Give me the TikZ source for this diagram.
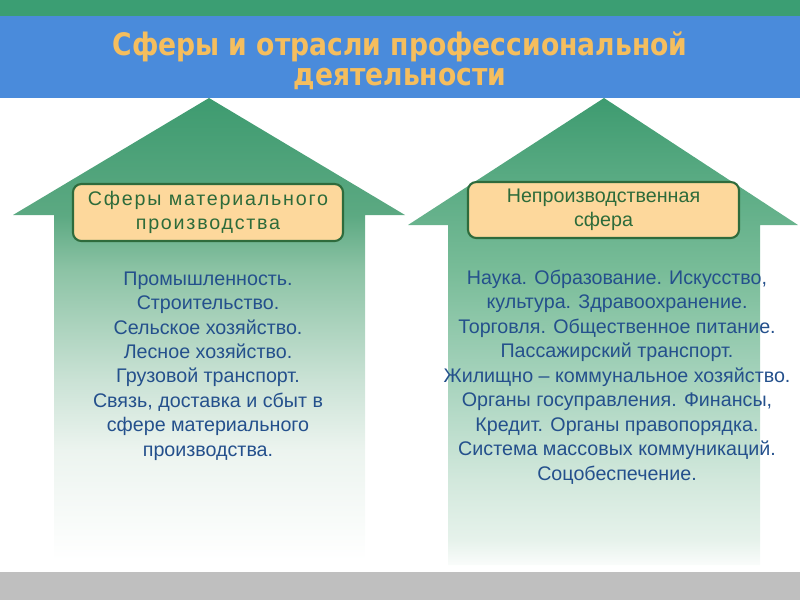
\documentclass[tikz,border=0pt]{standalone}
\usepackage{fontspec}
\setmainfont{Liberation Sans}
\newfontfamily\titlefont[FakeStretch=0.86]{DejaVu Sans}
\newfontfamily\spacedfont[LetterSpace=9]{Liberation Sans}
\usepackage{xcolor}
\usetikzlibrary{positioning}
\definecolor{bandgreen}{RGB}{59,158,115}
\definecolor{bandblue}{RGB}{74,139,219}
\definecolor{bandgray}{RGB}{191,191,191}
\definecolor{titleorange}{RGB}{245,190,94}
\definecolor{boxfill}{RGB}{253,216,156}
\definecolor{boxline}{RGB}{46,107,60}
\definecolor{boxtext}{RGB}{45,107,58}
\definecolor{itemblue}{RGB}{36,80,140}
\definecolor{arrgreen}{RGB}{62,155,112}
\definecolor{lA}{RGB}{92,169,130}
\definecolor{lB}{RGB}{140,195,165}
\definecolor{lC}{RGB}{202,226,213}
\definecolor{lD}{RGB}{236,244,239}
\definecolor{rA}{RGB}{120,188,152}
\definecolor{rB}{RGB}{175,215,195}
\definecolor{rC}{RGB}{210,232,220}
\definecolor{rD}{RGB}{230,242,235}
\definecolor{rE}{RGB}{250,252,251}
% fades from green at the tip down to white
\pgfdeclareverticalshading{leftfade}{100bp}{color(0bp)=(white); color(25bp)=(white); color(36.9bp)=(lD); color(44.5bp)=(lC); color(56.4bp)=(lB); color(62.3bp)=(lA); color(75bp)=(arrgreen); color(100bp)=(arrgreen)}
\pgfdeclareverticalshading{rightfade}{100bp}{color(0bp)=(rE); color(25bp)=(rE); color(27.7bp)=(rD); color(34.1bp)=(rC); color(42.7bp)=(rB); color(56.6bp)=(rA); color(75bp)=(arrgreen); color(100bp)=(arrgreen)}
\tikzset{
heading/.style={
 text=titleorange,
 align=center,
 font=\titlefont\bfseries\fontsize{22}{21.5}\selectfont
 },
spherebox/.style={
 draw=boxline,
 fill=boxfill,
 line width=1.5pt,
 rounded corners=6pt,
 text=boxtext,
 align=center,
 inner sep=0pt,
 font=\fontsize{14}{17.4}\selectfont
 },
items/.style={
 text=itemblue,
 align=center,
 inner sep=0pt,
 font=\fontsize{14}{17.4}\selectfont
 }
}

\begin{document}
\begin{tikzpicture}[x=0.025cm,y=-0.025cm]
\useasboundingbox (0,0) rectangle (800,600);
% arrows
\shade[shading=leftfade] (209,98) -- (405,215) -- (365,215) -- (365,560) -- (54,560) -- (54,215) -- (13,215) -- cycle;
\shade[shading=rightfade] (604,98) -- (798,225) -- (760,225) -- (760,565) -- (448,565) -- (448,225) -- (408,225) -- cycle;
% bands
\fill[bandgreen] (0,0) rectangle (800,16);
\fill[bandblue] (0,16) rectangle (800,98);
\fill[bandgray] (0,572) rectangle (800,600);
\node[heading] (title) at (400,61) {Сферы и отрасли профессиональной\\деятельности};
\node[spherebox,minimum width=6.75cm,minimum height=1.425cm] (material) at (208,212.5) {\spacedfont Сферы материального\\\spacedfont производства};
\node[spherebox,minimum width=6.775cm,minimum height=1.4cm] (nonprod) at (603.5,210) {Непроизводственная\\сфера};
\node[items] (matlist) at (208,366) {Промышленность.\\Строительство.\\Сельское хозяйство.\\Лесное хозяйство.\\Грузовой транспорт.\\Связь, доставка и сбыт в\\сфере материального\\производства.};
\node[items] (nonlist) at (617,377) {Наука. Образование. Искусство,\\культура. Здравоохранение.\\Торговля. Общественное питание.\\Пассажирский транспорт.\\Жилищно – коммунальное хозяйство.\\Органы госуправления. Финансы,\\Кредит. Органы правопорядка.\\Система массовых коммуникаций.\\Соцобеспечение.};
\end{tikzpicture}
\end{document}
